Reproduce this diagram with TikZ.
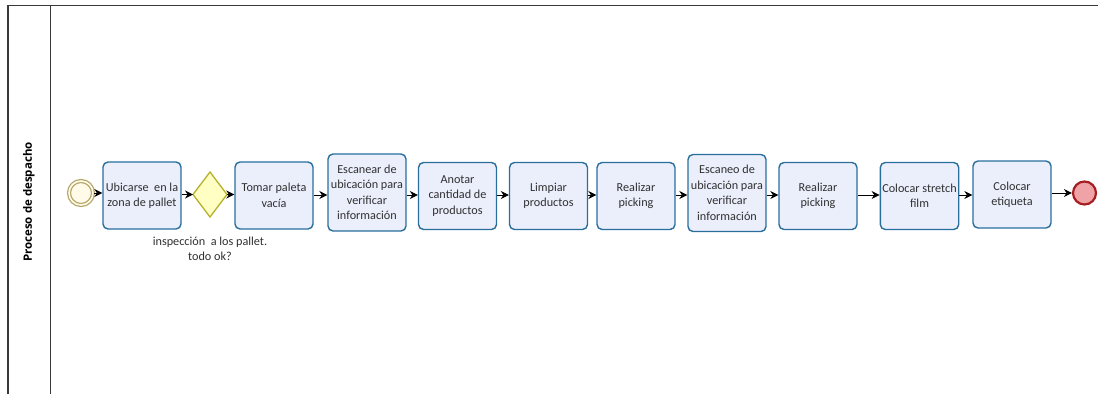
\documentclass[tikz,border=0pt]{standalone}
\usepackage{fontspec}
\setmainfont{Carlito}
\newfontfamily\lanefont{Open Sans}
\usetikzlibrary{arrows.meta}
\definecolor{taskfill}{HTML}{EBEFFC}
\definecolor{taskdraw}{HTML}{2A6E9C}
\definecolor{txt}{HTML}{303030}
\definecolor{startfill}{HTML}{FFFBE8}
\definecolor{startdraw}{HTML}{B4A86C}
\definecolor{gwfill}{HTML}{FFFFC4}
\definecolor{gwdraw}{HTML}{B5B02A}
\definecolor{endfill}{HTML}{EFA3A6}
\definecolor{enddraw}{HTML}{A51E22}
\definecolor{frame}{HTML}{3A3A3A}
\tikzset{
  task/.style={draw=taskdraw, line width=1.4pt, fill=taskfill, rounded corners=5pt,
    minimum width=78pt, minimum height=67pt, align=center,
    font=\fontsize{12.2}{15.5}\selectfont, text=txt, inner sep=2pt},
  tasktall/.style={task, minimum height=77pt},
  flow/.style={draw=black, line width=0.9pt, -{Stealth[length=8pt,width=8pt]}},
  lane/.style={draw=frame, line width=1.2pt}
}
\begin{document}
\begin{tikzpicture}[x=1pt,y=-1pt]
  \useasboundingbox (0,0) rectangle (1099,394);
  % pool frame
  \draw[lane] (8,394) -- (8,5.5) -- (1098,5.5);
  \draw[lane] (50.5,5.5) -- (50.5,394);
  \node[rotate=90, font=\lanefont\bfseries\fontsize{11.5}{13}\selectfont, text=black] (lanename) at (29,202) {Proceso de despacho};

  % events and gateway
  \node[circle, draw=startdraw, fill=startfill, line width=1.3pt, minimum size=24pt, inner sep=0pt,
        double=startfill, double distance=1.6pt] (start) at (81,193) {};
  \node[task] (t1) at (142,195.5) {Ubicarse\ \ en la\\zona de pallet};
  \path[draw=gwdraw, fill=gwfill, line width=1.3pt] (193,194.5) -- (210,172) -- (227,194.5) -- (210,217) -- cycle;
  \coordinate (gwW) at (193,194.5);
  \coordinate (gwE) at (227,194.5);
  \node[font=\fontsize{12.2}{15.5}\selectfont, text=txt, align=center] (gwlabel) at (210,249) {inspección\ \ a los pallet.\\todo ok?};
  \node[task] (t2) at (274,195.5) {Tomar paleta\\vacía};
  \node[tasktall] (t3) at (367,192.5) {Escanear de\\ubicación para\\verificar\\información};
  \node[task] (t4) at (457.5,196) {Anotar\\cantidad de\\productos};
  \node[task] (t5) at (548.5,196) {Limpiar\\productos};
  \node[task] (t6) at (636,196) {Realizar\\picking};
  \node[tasktall] (t7) at (727,193) {Escaneo de\\ubicación para\\verificar\\información};
  \node[task] (t8) at (818,196) {Realizar\\picking};
  \node[task] (t9) at (919.5,196) {Colocar stretch\\film};
  \node[task] (t10) at (1012,194.5) {Colocar\\etiqueta};
  \node[circle, draw=enddraw, fill=endfill, line width=2.2pt, minimum size=23pt, inner sep=0pt] (end) at (1084.5,193) {};

  % sequence flows
  \draw[flow] (start.east) -- (start.east -| t1.west);
  \draw[flow] (t1.east |- gwW) -- (gwW);
  \draw[flow] (gwE) -- (gwE -| t2.west);
  \draw[flow] (t2.east |- 0,195) -- (t3.west |- 0,195);
  \draw[flow] (t3.east |- 0,195) -- (t4.west |- 0,195);
  \draw[flow] (t4.east |- 0,195) -- (t5.west |- 0,195);
  \draw[flow] (t5.east |- 0,195) -- (t6.west |- 0,195);
  \draw[flow] (t6.east |- 0,195) -- (t7.west |- 0,195);
  \draw[flow] (t7.east |- 0,195) -- (t8.west |- 0,195);
  \draw[flow] (t8.east |- 0,195) -- (t9.west |- 0,195);
  \draw[flow] (t9.east |- 0,195) -- (t10.west |- 0,195);
  \draw[flow] (t10.east |- end.west) -- (end.west);
\end{tikzpicture}
\end{document}
